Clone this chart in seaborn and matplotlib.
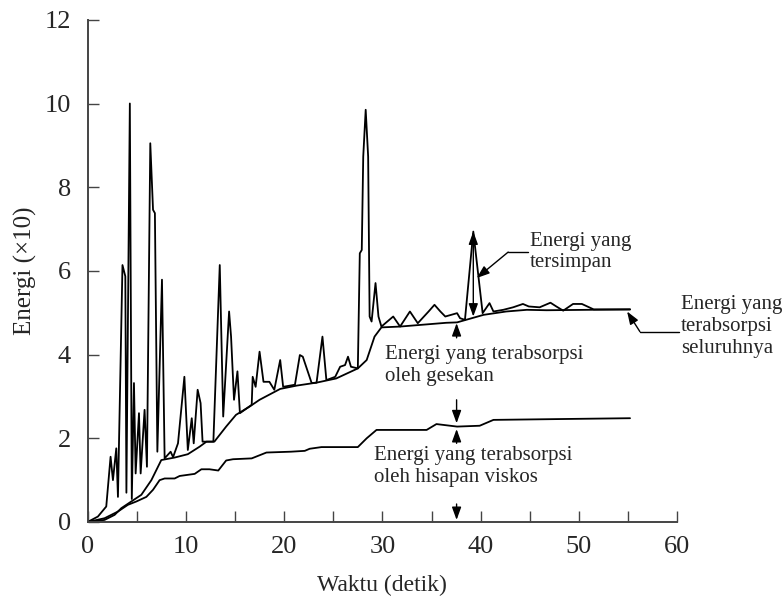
import numpy as np
import pandas as pd
import matplotlib
matplotlib.use("Agg")
import matplotlib.pyplot as plt
import seaborn as sns

# ---- data ----
total_x = [0, 1.05, 1.9, 2.34, 2.58, 2.92, 3.09, 3.55, 3.84, 3.95, 4.3, 4.5, 4.72, 4.89,
           5.23, 5.4, 5.8, 6.04, 6.38, 6.66, 6.85, 7.1, 7.57, 7.84, 8.45, 8.7, 9.2, 9.85,
           10.2, 10.6, 10.8, 11.2, 11.5, 11.7, 12.8, 13.45, 13.8, 14.4, 14.6, 14.9, 15.25,
           15.5, 16.7, 16.8, 17.1, 17.5, 17.9, 18.5, 19.0, 19.6, 19.9, 21.1, 21.6, 21.9,
           22.8, 23.3, 23.9, 24.3, 25.2, 25.7, 26.2, 26.5, 26.8, 27.5, 27.7, 27.9, 28.05,
           28.3, 28.55, 28.7, 28.9, 29.3, 29.6, 29.9, 31.1, 31.8, 32.8, 33.6, 34.7, 35.3,
           35.9, 36.4, 37.6, 37.9, 38.4, 39.25, 40.2, 40.9, 41.3, 42.3, 43.3, 44.3, 44.9,
           46.0, 47.1, 47.7, 48.4, 49.4, 50.3, 51.5, 55.2]
total_y = [0, 0.13, 0.37, 1.56, 1.0, 1.76, 0.6, 6.14, 5.87, 0.7, 10.0, 0.55, 3.32, 1.16,
           2.6, 1.16, 2.68, 1.32, 9.05, 7.46, 7.38, 1.68, 5.79, 1.52, 1.68, 1.55, 1.88, 3.47,
           1.72, 2.48, 1.88, 3.16, 2.84, 1.92, 1.92, 6.14, 2.52, 5.03, 4.43, 2.92, 3.6,
           2.6, 2.8, 3.47, 3.23, 4.07, 3.35, 3.35, 3.16, 3.87, 3.23, 3.28, 3.99, 3.95,
           3.32, 3.33, 4.43, 3.39, 3.47, 3.71, 3.75, 3.95, 3.71, 3.67, 6.42, 6.5, 8.73,
           9.85, 8.73, 4.91, 4.79, 5.71, 4.91, 4.67, 4.91, 4.67, 5.03, 4.75, 5.03, 5.19,
           5.03, 4.91, 4.99, 4.87, 4.83, 6.94, 4.99, 5.23, 5.03, 5.07, 5.13, 5.21, 5.15,
           5.13, 5.24, 5.15, 5.05, 5.21, 5.21, 5.08, 5.08]

absorbed_x = [0, 1.73, 2.75, 3.43, 4.45, 5.47, 6.49, 7.5, 8.86, 10.2, 11.4, 12.1, 12.9,
              14.1, 15.1, 16.5, 17.5, 19.6, 21.3, 23.3, 25.3, 27.5, 28.4, 29.2, 29.9,
              31.8, 36.5, 37.6, 38.2, 40.3, 42.6, 44.7, 46.7, 55.2]
absorbed_y = [0, 0.05, 0.17, 0.33, 0.49, 0.65, 1.0, 1.48, 1.54, 1.62, 1.8, 1.92, 1.92,
              2.28, 2.56, 2.76, 2.92, 3.18, 3.26, 3.33, 3.43, 3.67, 3.87, 4.43, 4.65,
              4.67, 4.76, 4.77, 4.81, 4.95, 5.03, 5.07, 5.06, 5.08]

viscous_x = [0, 1.73, 3.09, 4.1, 4.96, 5.98, 6.66, 7.33, 7.84, 8.86, 9.37, 10.9, 11.58,
             12.4, 13.3, 14.1, 14.8, 16.7, 18.2, 20.7, 22.1, 22.6, 23.8, 27.5, 28.4, 29.4,
             34.5, 35.5, 37.6, 39.9, 41.3, 48.1, 55.2]
viscous_y = [0, 0.09, 0.25, 0.41, 0.49, 0.6, 0.77, 1.0, 1.04, 1.04, 1.1, 1.15, 1.26,
             1.26, 1.23, 1.47, 1.5, 1.52, 1.66, 1.68, 1.7, 1.75, 1.79, 1.79, 2.0, 2.2,
             2.2, 2.34, 2.28, 2.3, 2.44, 2.46, 2.48]

x_ticks = [0, 5, 10, 15, 20, 25, 30, 35, 40, 45, 50, 55, 60]
x_ticklabels = ["0", "", "10", "", "20", "", "30", "", "40", "", "50", "", "60"]
y_ticks = [0, 2, 4, 6, 8, 10, 12]

label_stored = "Energi yang\ntersimpan"
label_total = "Energi yang\nterabsorpsi\nseluruhnya"
label_friction = "Energi yang terabsorpsi\noleh gesekan"
label_viscous = "Energi yang terabsorpsi\noleh hisapan viskos"

# ---- plotting ----
sns.set_style("ticks")
plt.rcParams["font.family"] = ["Liberation Serif", "DejaVu Serif"]

fig = plt.figure(figsize=(7.82, 6.0), dpi=100)
ax = fig.add_axes([0.112, 0.13, 0.754, 0.837])

df_total = pd.DataFrame({"t": total_x, "e": total_y})
df_abs = pd.DataFrame({"t": absorbed_x, "e": absorbed_y})
df_vis = pd.DataFrame({"t": viscous_x, "e": viscous_y})

lw = 1.3
sns.lineplot(data=df_total, x="t", y="e", sort=False, estimator=None, color="black", lw=lw, ax=ax)
sns.lineplot(data=df_abs, x="t", y="e", sort=False, estimator=None, color="black", lw=lw, ax=ax)
sns.lineplot(data=df_vis, x="t", y="e", sort=False, estimator=None, color="black", lw=lw, ax=ax)

ax.set_xlim(0, 60)
ax.set_ylim(0, 12)
ax.set_xticks(x_ticks)
ax.set_xticklabels(x_ticklabels)
ax.set_yticks(y_ticks)
ax.tick_params(axis="both", direction="in", length=8, width=1.0, color="#444444",
               labelsize=19, pad=10)
ax.tick_params(axis="y", pad=12)
sns.despine(ax=ax)
for s in ["left", "bottom"]:
    ax.spines[s].set_color("#444444")
    ax.spines[s].set_linewidth(1.4)

ax.set_xlabel("Waktu (detik)", fontsize=17, labelpad=12)
ax.set_ylabel("Energi (×10)", fontsize=18, labelpad=5)

fs = 15
arrow_kw = dict(arrowstyle="-|>,head_length=0.55,head_width=0.2", color="black",
                lw=1.0, shrinkA=0, shrinkB=0, mutation_scale=14)
dbl_kw = dict(arrowstyle="<|-|>,head_length=0.55,head_width=0.2", color="black",
              lw=1.0, shrinkA=0, shrinkB=0, mutation_scale=14)

# stored energy
ax.annotate("", xy=(39.25, 6.94), xytext=(39.25, 4.91), arrowprops=dbl_kw)
ax.plot([44.8, 42.8], [6.45, 6.45], color="black", lw=1.0, clip_on=False)
ax.annotate("", xy=(39.6, 5.83), xytext=(42.8, 6.45), arrowprops=arrow_kw)
ax.text(45.0, 6.45, label_stored, fontsize=fs, ha="left", va="center")

# total absorbed
ax.plot([60.2, 56.2], [4.55, 4.55], color="black", lw=1.0, clip_on=False)
ax.annotate("", xy=(54.9, 5.03), xytext=(56.2, 4.55), arrowprops=arrow_kw,
            annotation_clip=False)
ax.text(60.35, 4.67, label_total, fontsize=fs, ha="left", va="center", clip_on=False)

# friction
ax.annotate("", xy=(37.55, 4.75), xytext=(37.55, 4.40), arrowprops=arrow_kw)
ax.text(30.25, 3.73, label_friction, fontsize=fs, ha="left", va="center")

# viscous
ax.annotate("", xy=(37.55, 2.36), xytext=(37.55, 2.92), arrowprops=arrow_kw)
ax.annotate("", xy=(37.55, 2.22), xytext=(37.55, 1.88), arrowprops=arrow_kw)
ax.text(29.1, 1.33, label_viscous, fontsize=fs, ha="left", va="center")
ax.annotate("", xy=(37.55, 0.05), xytext=(37.55, 0.43), arrowprops=arrow_kw)

fig.savefig("out.png", dpi=100)
